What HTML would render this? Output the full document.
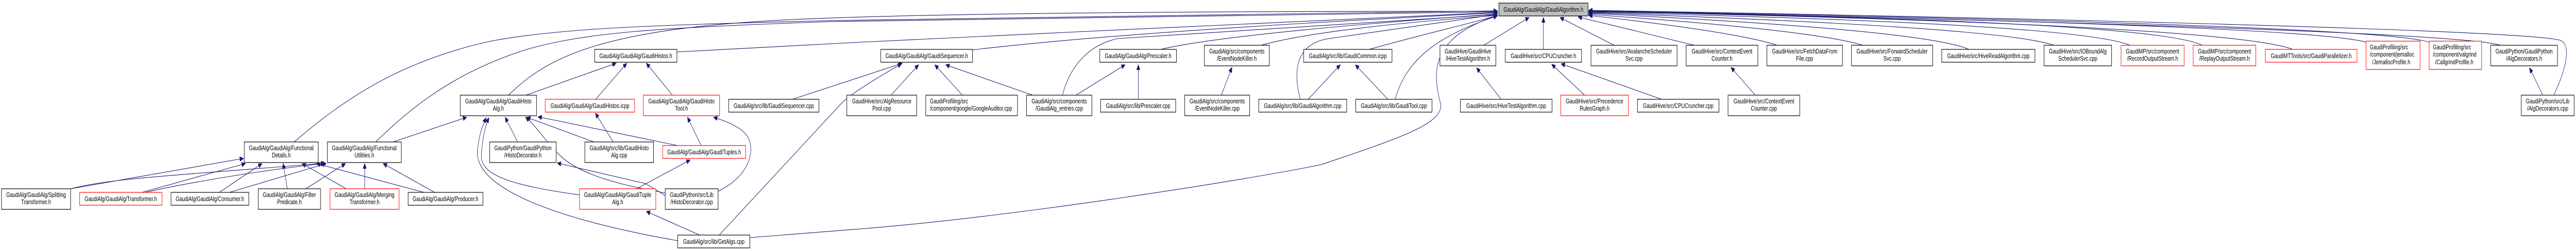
<!DOCTYPE html>
<html><head><meta charset="utf-8"><meta name="viewport" content="width=6823">
<style>
html,body{margin:0;padding:0;background:#fff;overflow:hidden;}
svg{display:block;position:fixed;left:0;top:0;width:100vw;height:100vh;}
text{font-family:"Liberation Sans",Helvetica,Arial,sans-serif;font-size:12.8px;fill:#000;}
.n{fill:#fff;stroke:#000;stroke-width:1.2;}
.r{fill:#fff;stroke:#ff0000;stroke-width:1.2;}
.g{fill:#bfbfbf;stroke:#000;stroke-width:1.2;}
path.e{fill:none;stroke:#191970;stroke-width:1.1;marker-end:url(#a);}
</style></head><body>
<svg viewBox="0 0 6823 488" preserveAspectRatio="none" xmlns="http://www.w3.org/2000/svg">
<defs><marker id="a" markerUnits="userSpaceOnUse" markerWidth="11" markerHeight="9" refX="10" refY="4.5" orient="auto"><path d="M0,0 L10,4.5 L0,9 z" fill="#191970" stroke="#191970"/></marker></defs>
<g>
<path class="e" d="M1347,185 C1450,110 1600,55 2100,38 S3700,22 3966,22"/>
<path class="e" d="M779,276 C900,200 1050,120 1300,80 C1500,52 1800,48 2200,40 L3966,21"/>
<path class="e" d="M995,276 C1080,215 1200,140 1400,95 C1550,65 1700,55 2200,42 L3966,23"/>
<path class="e" d="M1793,101 L2280,82 L2850,62 L3966,24"/>
<path class="e" d="M2576,97 Q3000,60 3966,25"/>
<path class="e" d="M3075,96 Q3250,65 3966,27"/>
<path class="e" d="M3340,88 Q3500,55 3966,30"/>
<path class="e" d="M2814,185 C2830,140 2870,90 2960,75 L3966,28"/>
<path class="e" d="M3627,96 C3750,70 3900,45 3966,30"/>
<path class="e" d="M3444,193 C3425,140 3430,85 3520,75 L3966,28"/>
<path class="e" d="M3695,193 C3720,130 3780,75 3966,31"/>
<path class="e" d="M1986,462 L2280,445 C2700,420 3300,350 3500,320 C3700,270 3830,240 3815,200 C3790,130 3800,70 3966,30"/>
<path class="e" d="M3930,88 L4050,34"/>
<path class="e" d="M4088,96 L4088,34"/>
<path class="e" d="M4275,88 L4132,34"/>
<path class="e" d="M4488,88 L4180,33"/>
<path class="e" d="M4707,88 Q4600,62 4208,30"/>
<path class="e" d="M4935,88 Q4800,58 4208,28"/>
<path class="e" d="M5215,96 Q5100,58 4208,26"/>
<path class="e" d="M5440,88 Q5300,52 4208,25"/>
<path class="e" d="M5642,88 Q5500,45 4208,24"/>
<path class="e" d="M5833,88 Q5700,40 4208,23"/>
<path class="e" d="M6073,96 Q5900,48 4208,22"/>
<path class="e" d="M6267,82 Q6100,48 4208,22"/>
<path class="e" d="M6434,82 Q6300,48 4208,21"/>
<path class="e" d="M6623,88 Q6500,58 4208,21"/>
<path class="e" d="M6764,185 C6800,130 6810,85 6780,78 C6650,55 5000,30 4208,20"/>
<path class="e" d="M187,367 L645,308"/>
<path class="e" d="M187,367 C300,345 500,340 862,317"/>
<path class="e" d="M376,374 L650,318"/>
<path class="e" d="M385,374 C500,355 700,330 860,318"/>
<path class="e" d="M581,374 L694,318"/>
<path class="e" d="M608,374 L864,318"/>
<path class="e" d="M761,367 L750,318"/>
<path class="e" d="M810,367 L915,318"/>
<path class="e" d="M917,367 L800,318"/>
<path class="e" d="M966,367 L966,318"/>
<path class="e" d="M1123,374 L838,318"/>
<path class="e" d="M1151,374 L1015,318"/>
<path class="e" d="M1041,276 L1236,228"/>
<path class="e" d="M1393,185 L1632,123"/>
<path class="e" d="M1578,193 L1660,123"/>
<path class="e" d="M1781,185 L1712,123"/>
<path class="e" d="M1371,276 L1338,228"/>
<path class="e" d="M1573,276 L1395,228"/>
<path class="e" d="M1624,276 L1577,220"/>
<path class="e" d="M1795,283 L1425,227"/>
<path class="e" d="M1857,283 L1821,228"/>
<path class="e" d="M1686,367 L1828,311"/>
<path class="e" d="M1535,379 C1350,360 1270,340 1275,300 C1278,270 1285,245 1295,229"/>
<path class="e" d="M1795,468 C1500,430 1250,370 1265,290 Q1270,255 1288,229"/>
<path class="e" d="M1762,380 L1710,357 L1476,317"/>
<path class="e" d="M1762,375 C1600,355 1520,330 1480,300 C1440,270 1420,245 1392,228"/>
<path class="e" d="M1902,372 C1990,340 2000,290 1980,265 C1960,245 1920,235 1890,228"/>
<path class="e" d="M1853,457 L1712,411"/>
<path class="e" d="M2099,193 L2390,123"/>
<path class="e" d="M1905,457 L2230,200 Q2260,178 2388,124"/>
<path class="e" d="M2360,185 L2433,126"/>
<path class="e" d="M2549,185 L2476,126"/>
<path class="e" d="M2735,185 L2505,126"/>
<path class="e" d="M2850,185 L2980,126"/>
<path class="e" d="M3015,193 L3015,126"/>
<path class="e" d="M3235,185 L3263,131"/>
<path class="e" d="M3465,193 L3550,126"/>
<path class="e" d="M3676,193 L3590,126"/>
<path class="e" d="M3976,193 L3911,132"/>
<path class="e" d="M4197,185 L4110,125"/>
<path class="e" d="M4401,193 L4135,124"/>
<path class="e" d="M4649,185 L4585,131"/>
<path class="e" d="M6735,185 L6700,132"/>
</g>
<g>
<rect class="n" x="4" y="367" width="183" height="40"/><text x="95.5" y="383" text-anchor="middle">GaudiAlg/GaudiAlg/Splitting</text><text x="95.5" y="397" text-anchor="middle">Transformer.h</text>
<rect class="r" x="211" y="374" width="218" height="25"/><text x="320" y="391" text-anchor="middle">GaudiAlg/GaudiAlg/Transformer.h</text>
<rect class="n" x="453" y="374" width="206" height="25"/><text x="556" y="391" text-anchor="middle">GaudiAlg/GaudiAlg/Consumer.h</text>
<rect class="n" x="647" y="276" width="196" height="40"/><text x="745" y="292" text-anchor="middle">GaudiAlg/GaudiAlg/Functional</text><text x="745" y="306" text-anchor="middle">Details.h</text>
<rect class="n" x="867" y="276" width="196" height="40"/><text x="965" y="292" text-anchor="middle">GaudiAlg/GaudiAlg/Functional</text><text x="965" y="306" text-anchor="middle">Utilities.h</text>
<rect class="n" x="684" y="367" width="165" height="40"/><text x="766.5" y="383" text-anchor="middle">GaudiAlg/GaudiAlg/Filter</text><text x="766.5" y="397" text-anchor="middle">Predicate.h</text>
<rect class="r" x="874" y="367" width="183" height="40"/><text x="965.5" y="383" text-anchor="middle">GaudiAlg/GaudiAlg/Merging</text><text x="965.5" y="397" text-anchor="middle">Transformer.h</text>
<rect class="n" x="1081" y="374" width="198" height="25"/><text x="1180" y="391" text-anchor="middle">GaudiAlg/GaudiAlg/Producer.h</text>
<rect class="n" x="1219" y="185" width="202" height="40"/><text x="1320" y="201" text-anchor="middle">GaudiAlg/GaudiAlg/GaudiHisto</text><text x="1320" y="215" text-anchor="middle">Alg.h</text>
<rect class="r" x="1444" y="193" width="237" height="25"/><text x="1562.5" y="210" text-anchor="middle">GaudiAlg/GaudiAlg/GaudiHistos.icpp</text>
<rect class="n" x="1575" y="96" width="218" height="25"/><text x="1684" y="113" text-anchor="middle">GaudiAlg/GaudiAlg/GaudiHistos.h</text>
<rect class="r" x="1704" y="185" width="202" height="40"/><text x="1805" y="201" text-anchor="middle">GaudiAlg/GaudiAlg/GaudiHisto</text><text x="1805" y="215" text-anchor="middle">Tool.h</text>
<rect class="n" x="1297" y="276" width="176" height="40"/><text x="1385" y="292" text-anchor="middle">GaudiPython/GaudiPython</text><text x="1385" y="306" text-anchor="middle">/HistoDecorator.h</text>
<rect class="n" x="1549" y="276" width="182" height="40"/><text x="1640" y="292" text-anchor="middle">GaudiAlg/src/lib/GaudiHisto</text><text x="1640" y="306" text-anchor="middle">Alg.cpp</text>
<rect class="r" x="1535" y="367" width="202" height="40"/><text x="1636" y="383" text-anchor="middle">GaudiAlg/GaudiAlg/GaudiTuple</text><text x="1636" y="397" text-anchor="middle">Alg.h</text>
<rect class="r" x="1755" y="283" width="220" height="25"/><text x="1865" y="300" text-anchor="middle">GaudiAlg/GaudiAlg/GaudiTuples.h</text>
<rect class="n" x="1762" y="367" width="140" height="40"/><text x="1832" y="383" text-anchor="middle">GaudiPython/src/Lib</text><text x="1832" y="397" text-anchor="middle">/HistoDecorator.cpp</text>
<rect class="n" x="1795" y="457" width="191" height="25"/><text x="1890.5" y="474" text-anchor="middle">GaudiAlg/src/lib/GetAlgs.cpp</text>
<rect class="n" x="1930" y="193" width="239" height="25"/><text x="2049.5" y="210" text-anchor="middle">GaudiAlg/src/lib/GaudiSequencer.cpp</text>
<rect class="n" x="2243" y="185" width="185" height="40"/><text x="2335.5" y="201" text-anchor="middle">GaudiHive/src/AlgResource</text><text x="2335.5" y="215" text-anchor="middle">Pool.cpp</text>
<rect class="n" x="2333" y="96" width="243" height="25"/><text x="2454.5" y="113" text-anchor="middle">GaudiAlg/GaudiAlg/GaudiSequencer.h</text>
<rect class="n" x="2452" y="185" width="243" height="40"/><text x="2463" y="201">GaudiProfiling/src</text><text x="2463" y="215">/component/google/GoogleAuditor.cpp</text>
<rect class="n" x="2719" y="185" width="173" height="40"/><text x="2805.5" y="201" text-anchor="middle">GaudiAlg/src/components</text><text x="2805.5" y="215" text-anchor="middle">/GaudiAlg_entries.cpp</text>
<rect class="n" x="2913" y="96" width="203" height="25"/><text x="3014.5" y="113" text-anchor="middle">GaudiAlg/GaudiAlg/Prescaler.h</text>
<rect class="n" x="2915" y="193" width="199" height="25"/><text x="3014.5" y="210" text-anchor="middle">GaudiAlg/src/lib/Prescaler.cpp</text>
<rect class="n" x="3190" y="88" width="172" height="40"/><text x="3276" y="104" text-anchor="middle">GaudiAlg/src/components</text><text x="3276" y="118" text-anchor="middle">/EventNodeKiller.h</text>
<rect class="n" x="3138" y="185" width="172" height="40"/><text x="3224" y="201" text-anchor="middle">GaudiAlg/src/components</text><text x="3224" y="215" text-anchor="middle">/EventNodeKiller.cpp</text>
<rect class="n" x="3334" y="193" width="233" height="25"/><text x="3450.5" y="210" text-anchor="middle">GaudiAlg/src/lib/GaudiAlgorithm.cpp</text>
<rect class="n" x="3453" y="96" width="234" height="25"/><text x="3570" y="113" text-anchor="middle">GaudiAlg/src/lib/GaudiCommon.icpp</text>
<rect class="n" x="3591" y="193" width="202" height="25"/><text x="3692" y="210" text-anchor="middle">GaudiAlg/src/lib/GaudiTool.cpp</text>
<rect class="n" x="3814" y="88" width="148" height="40"/><text x="3888" y="104" text-anchor="middle">GaudiHive/GaudiHive</text><text x="3888" y="118" text-anchor="middle">/HiveTestAlgorithm.h</text>
<rect class="n" x="3868" y="193" width="243" height="25"/><text x="3989.5" y="210" text-anchor="middle">GaudiHive/src/HiveTestAlgorithm.cpp</text>
<rect class="n" x="3987" y="96" width="202" height="25"/><text x="4088" y="113" text-anchor="middle">GaudiHive/src/CPUCruncher.h</text>
<rect class="g" x="3970" y="6" width="236" height="25"/><text x="4088" y="23" text-anchor="middle">GaudiAlg/GaudiAlg/GaudiAlgorithm.h</text>
<rect class="n" x="4214" y="88" width="228" height="40"/><text x="4328" y="104" text-anchor="middle">GaudiHive/src/AvalancheScheduler</text><text x="4328" y="118" text-anchor="middle">Svc.cpp</text>
<rect class="n" x="4466" y="88" width="190" height="40"/><text x="4561" y="104" text-anchor="middle">GaudiHive/src/ContextEvent</text><text x="4561" y="118" text-anchor="middle">Counter.h</text>
<rect class="r" x="4134" y="185" width="179" height="40"/><text x="4223.5" y="201" text-anchor="middle">GaudiHive/src/Precedence</text><text x="4223.5" y="215" text-anchor="middle">RulesGraph.h</text>
<rect class="n" x="4337" y="193" width="216" height="25"/><text x="4445" y="210" text-anchor="middle">GaudiHive/src/CPUCruncher.cpp</text>
<rect class="n" x="4577" y="185" width="190" height="40"/><text x="4672" y="201" text-anchor="middle">GaudiHive/src/ContextEvent</text><text x="4672" y="215" text-anchor="middle">Counter.cpp</text>
<rect class="n" x="4680" y="88" width="200" height="40"/><text x="4780" y="104" text-anchor="middle">GaudiHive/src/FetchDataFrom</text><text x="4780" y="118" text-anchor="middle">File.cpp</text>
<rect class="n" x="4904" y="88" width="215" height="40"/><text x="5011.5" y="104" text-anchor="middle">GaudiHive/src/ForwardScheduler</text><text x="5011.5" y="118" text-anchor="middle">Svc.cpp</text>
<rect class="n" x="5143" y="96" width="247" height="25"/><text x="5266.5" y="113" text-anchor="middle">GaudiHive/src/HiveReadAlgorithm.cpp</text>
<rect class="n" x="5414" y="88" width="179" height="40"/><text x="5503.5" y="104" text-anchor="middle">GaudiHive/src/IOBoundAlg</text><text x="5503.5" y="118" text-anchor="middle">SchedulerSvc.cpp</text>
<rect class="r" x="5618" y="88" width="167" height="40"/><text x="5701.5" y="104" text-anchor="middle">GaudiMP/src/component</text><text x="5701.5" y="118" text-anchor="middle">/RecordOutputStream.h</text>
<rect class="r" x="5809" y="88" width="166" height="40"/><text x="5892" y="104" text-anchor="middle">GaudiMP/src/component</text><text x="5892" y="118" text-anchor="middle">/ReplayOutputStream.h</text>
<rect class="r" x="6000" y="96" width="243" height="25"/><text x="6121.5" y="113" text-anchor="middle">GaudiMTTools/src/GaudiParallelizer.h</text>
<rect class="r" x="6267" y="80" width="143" height="55"/><text x="6277" y="96">GaudiProfiling/src</text><text x="6277" y="110">/component/jemalloc</text><text x="6283" y="125">/JemallocProfile.h</text>
<rect class="r" x="6434" y="80" width="139" height="55"/><text x="6444" y="96">GaudiProfiling/src</text><text x="6444" y="110">/component/valgrind</text><text x="6450" y="125">/CallgrindProfile.h</text>
<rect class="n" x="6597" y="88" width="177" height="40"/><text x="6685.5" y="104" text-anchor="middle">GaudiPython/GaudiPython</text><text x="6685.5" y="118" text-anchor="middle">/AlgDecorators.h</text>
<rect class="n" x="6678" y="185" width="140" height="40"/><text x="6748" y="201" text-anchor="middle">GaudiPython/src/Lib</text><text x="6748" y="215" text-anchor="middle">/AlgDecorators.cpp</text>
</g>
</svg>
</body></html>
